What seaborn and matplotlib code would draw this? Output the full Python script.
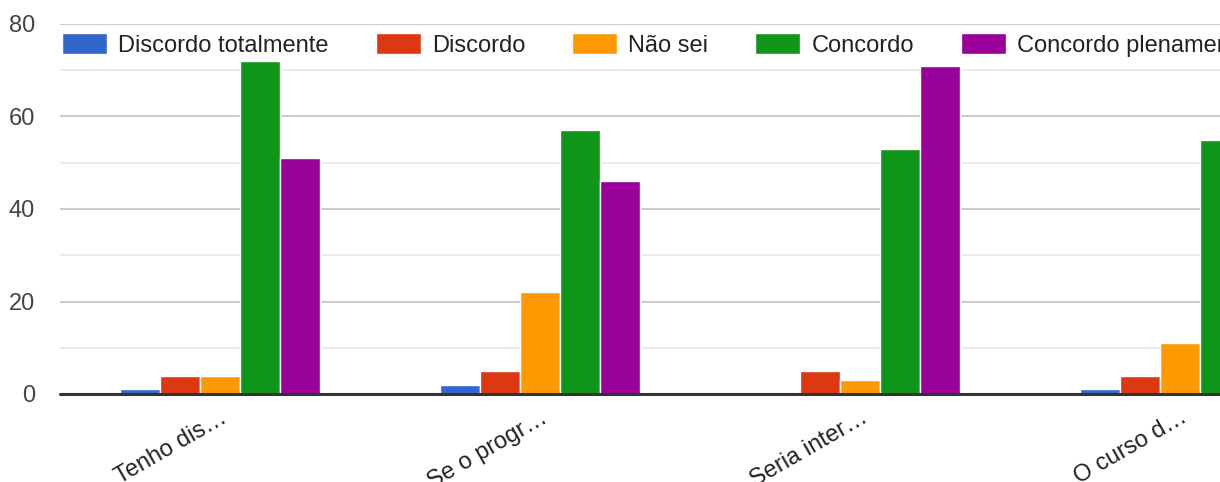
import matplotlib
matplotlib.use("Agg")
import matplotlib.pyplot as plt
import pandas as pd
import seaborn as sns

perguntas = ["Tenho dis…", "Se o progr…", "Seria inter…", "O curso d…"]
respostas = ["Discordo totalmente", "Discordo", "Não sei", "Concordo", "Concordo plenamente"]
discordo_totalmente = [1, 2, 0, 1]
discordo = [4, 5, 5, 4]
nao_sei = [4, 22, 3, 11]
concordo = [72, 57, 53, 55]
concordo_plenamente = [51, 46, 71, 45]
cores = ["#3366cc", "#dc3912", "#ff9900", "#109618", "#990099"]

valores = [discordo_totalmente, discordo, nao_sei, concordo, concordo_plenamente]
linhas = []
for resp, serie in zip(respostas, valores):
    for perg, v in zip(perguntas, serie):
        linhas.append({"pergunta": perg, "resposta": resp, "n": v})
df = pd.DataFrame(linhas)

sns.set_style("white")
plt.rcParams["font.family"] = ["Liberation Sans", "DejaVu Sans"]

fig = plt.figure(figsize=(12.2, 4.82), dpi=100)
# the original screenshot cuts the plot off on the right side
ax = fig.add_axes([60 / 1220, 1 - 394 / 482, 1280 / 1220, 370 / 482])

sns.barplot(data=df, x="pergunta", y="n", hue="resposta", hue_order=respostas,
            palette=cores, width=0.625, edgecolor="white", linewidth=1,
            saturation=1, ax=ax, legend=True)

ax.set_xlim(-0.5, 3.5)
ax.set_ylim(0, 80)
ax.set_yticks([0, 20, 40, 60, 80])
ax.set_yticks([10, 30, 50, 70], minor=True)
ax.grid(axis="y", which="major", color="#cccccc", linewidth=1.5, zorder=0)
ax.grid(axis="y", which="minor", color="#ebebeb", linewidth=1.5, zorder=0)
ax.set_axisbelow(True)
ax.axhline(0, color="#333333", linewidth=2.2, zorder=5, clip_on=False)
for s in ax.spines.values():
    s.set_visible(False)
ax.set_xlabel("")
ax.set_ylabel("")
ax.tick_params(axis="y", which="both", length=0, pad=18, labelsize=17, labelcolor="#444444")
ax.tick_params(axis="x", length=0, pad=9, labelsize=17, labelcolor="#222222")
for lbl in ax.get_xticklabels():
    lbl.set_rotation(30)
    lbl.set_ha("right")
    lbl.set_rotation_mode("anchor")

handles, labels = ax.get_legend_handles_labels()
ax.get_legend().remove()
fig.legend(handles, labels, loc="upper left", bbox_to_anchor=(62 / 1220, 1 - 33 / 482),
           ncol=5, frameon=False, fontsize=17, borderpad=0, borderaxespad=0,
           handlelength=1.9, handleheight=1.0, handletextpad=0.47, columnspacing=2.0,
           labelcolor="#222222")

fig.savefig("out.png", dpi=100)
